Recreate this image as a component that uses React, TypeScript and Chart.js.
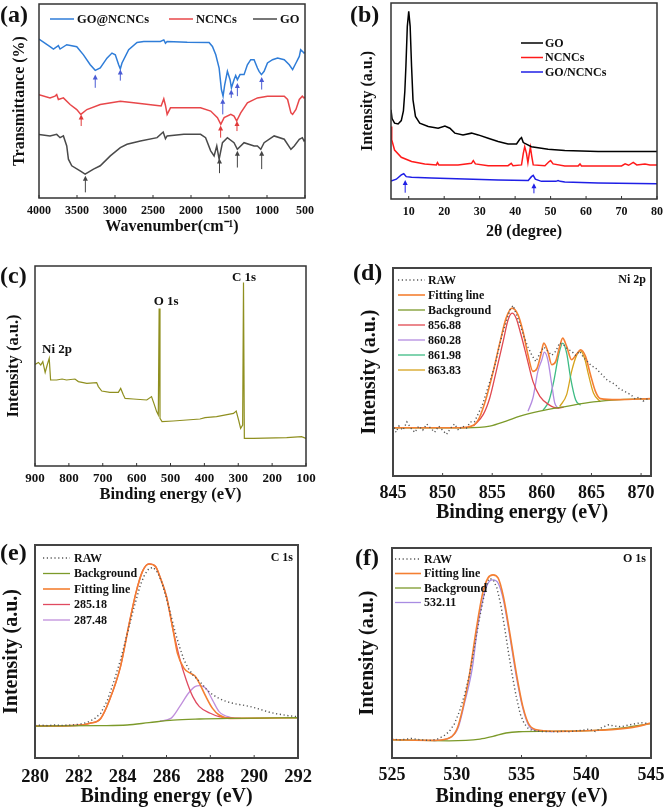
import React, { useEffect, useRef } from "react";
import { Chart, registerables } from "chart.js";
Chart.register(...registerables);

const SERIF = "'Liberation Serif', 'Times New Roman', Times, serif";
type Pt = [number, number];

// ---------- (a) FTIR ----------
const ftirTicks = [4000, 3500, 3000, 2500, 2000, 1500, 1000, 500];
const ftirGONCNCs: Pt[] = [[4000,81.9],[3855,78],[3810,76.8],[3745,78.5],[3723,76.8],[3635,79],[3503,78],[3415,73.8],[3326,68.7],[3260,65.8],[3194,67],[3106,72.1],[3040,74.7],[2996,73.8],[2952,68.7],[2930,66.5],[2908,69.6],[2820,76.4],[2710,80.2],[2622,80.7],[2402,80.7],[2358,81.5],[2336,79.8],[2314,80.7],[2050,80.3],[1762,80.2],[1718,78.1],[1674,73.8],[1630,67],[1600,55.9],[1578,52.5],[1556,58.5],[1521,65.3],[1486,61],[1468,56.8],[1434,61],[1412,63.1],[1390,61],[1355,63.6],[1302,63.6],[1258,68.7],[1214,71.3],[1170,71.3],[1126,67],[1104,65.3],[1073,63.6],[1038,65.3],[994,69.6],[927,71.3],[861,72.1],[773,71.3],[707,68.7],[663,66.2],[619,69.6],[575,73],[557,76.4],[535,75.6],[513,74.7],[500,75]];
const ftirNCNCs: Pt[] = [[4000,53.3],[3855,51.6],[3789,52.5],[3767,53.3],[3745,50.8],[3679,51.6],[3591,48.2],[3503,45.6],[3450,43.1],[3370,45.6],[3194,48.2],[2930,49.9],[2754,49.1],[2446,47.7],[2393,47.4],[2358,51.1],[2336,47.7],[2314,43.1],[2270,46.5],[2094,46.5],[1874,46.5],[1741,44.8],[1652,41.4],[1608,38],[1564,41.4],[1476,43.1],[1434,42.2],[1399,39.7],[1346,43.9],[1258,49.1],[1126,51.6],[994,52.5],[773,52.5],[729,50.8],[685,43.9],[663,43.1],[619,45.6],[575,50.8],[535,52.5],[513,51.6],[500,52]];
const ftirGO: Pt[] = [[4000,32.8],[3855,32],[3767,32.8],[3723,31.1],[3679,32],[3635,26.8],[3613,20],[3569,16.6],[3459,14],[3393,12.3],[3283,14.9],[3194,16.6],[3062,21.7],[2930,26],[2842,27.7],[2666,29.4],[2446,31.1],[2366,34],[2336,30.6],[2314,32],[2094,32.8],[1874,32.8],[1808,31.1],[1741,24.3],[1696,21.7],[1661,26.8],[1630,20],[1586,28.5],[1521,31.1],[1434,28.5],[1390,25.1],[1302,28.5],[1170,26.8],[1126,26.8],[1082,25.1],[1038,28.5],[906,32],[773,30.3],[685,25.1],[641,26.8],[575,30.3],[535,31.1],[513,29.4],[500,30]];
// arrows: [wavenumber, tip, tail]
const ftirArrowsBlue: [number, number, number][] = [[3260,63.6,56.8],[2930,66.2,60.5],[1582,51.1,43.1],[1470,55.9,51.6],[1390,59.3,52.5],[1070,62.4,55.9]];
const ftirArrowsRed: [number, number, number][] = [[3445,43.1,37.1],[1610,37.4,31.1],[1395,39.7,34.5]];
const ftirArrowsGray: [number, number, number][] = [[3390,11.5,2.9],[1625,20.3,12.8],[1390,24.3,15.7],[1070,24.3,14.9]];

// ---------- (b) XRD ----------
const xrdTicks = [10, 20, 30, 40, 50, 60, 70, 80];
const xrdGO: Pt[] = [[5,45.5],[5.3,41],[6,38.7],[7,38.3],[7.9,40],[8.5,45],[8.9,55],[9.2,67.6],[9.6,88.1],[10,95.7],[10.4,88.1],[10.8,67.6],[11.2,50.6],[11.9,42.1],[13.1,38.7],[15.5,37],[18.3,36.1],[20.2,37.2],[21.6,36.1],[23,33.6],[25.3,32.7],[27.7,33.6],[29.6,32.7],[32.4,31],[35.2,29.3],[38,28.1],[40.4,28.1],[41.3,30.5],[41.8,31.3],[42.3,28.8],[44.6,26.7],[49.3,25.4],[54,24.7],[63.4,24.2],[72.8,24.2],[80,24.2]];
const xrdNCNCs: Pt[] = [[5,37],[5.2,30.2],[6,25],[7.9,21.3],[10.8,19.1],[14.5,17.9],[17.8,17.4],[18.1,18.6],[18.5,17.4],[23.9,17.4],[27.7,18.2],[28.2,19.6],[28.8,17.9],[32.4,17],[38,17],[38.9,18.2],[39.4,17],[41.8,17.4],[42.3,23.3],[42.7,26.7],[43.2,23.3],[43.6,18.5],[44,23.3],[44.3,26.4],[44.7,21.6],[45.1,17.4],[48.4,17],[49.6,19.1],[50,19.6],[50.7,17.9],[54,16.9],[57.8,16.9],[58.3,17.9],[58.7,16.9],[70,16.9],[71,17.9],[72,17.2],[73.3,18.7],[74.3,17.4],[76.6,17.9],[78,17.4],[80,17.4]];
const xrdGONCNCs: Pt[] = [[5,9.2],[6.5,10.1],[7.9,12.3],[8.6,12.9],[9.3,11.4],[10.8,11.1],[16.4,10.7],[25.8,10.2],[35.2,9.7],[43.7,9.4],[44.6,11.4],[45.1,12.1],[45.7,10.1],[47.4,9],[51.5,9],[52.1,9.4],[52.7,9],[54,8.7],[63.4,8.2],[80,7.8]];
const xrdArrows: [number, number, number][] = [[9,9.7,3.2],[45.3,8.0,2.9]];

// ---------- (c) XPS survey ----------
const surveyTicks = [900, 800, 700, 600, 500, 400, 300, 200, 100];
const survey: Pt[] = [[900,50.8],[890,51.8],[883,50.5],[877,52.2],[870,46.8],[864,50.5],[858,53.8],[854,43],[836,43],[820,43.5],[807,43],[782,43.5],[772,42.2],[747,41.3],[718,41.7],[713,39.7],[703,37.5],[679,36.8],[654,36.8],[647,38.8],[639,35.5],[634,33.8],[610,33.5],[570,33],[556,34.7],[549,31.3],[541,27.2],[536,25.5],[533.5,78.8],[531,23.8],[525,22.2],[492,22.5],[413,23.5],[398,24.2],[364,24.7],[314,26.3],[306,27.5],[299,23],[293,18.8],[287,20.5],[284.5,91.8],[282,13.8],[255,13.8],[157,14.2],[113,14.7],[100,13.8]];
const surveyLabels: [string, number, number][] = [["Ni 2p",835,58],["O 1s",513,82],["C 1s",283,94]];

// ---------- (d) Ni 2p ----------
const ni2pTicks = [845, 850, 855, 860, 865, 870];
const ni2pRaw: Pt[] = [[845,25],[845.3,21],[845.6,24],[846,22],[846.4,26],[846.8,23],[847.2,21],[847.6,24],[848,22],[848.4,25],[848.8,23],[849.2,21],[849.6,24],[850,22],[850.4,20],[850.8,23],[851.2,25],[851.6,22],[852,24],[852.4,23],[852.8,26],[853.2,26],[853.6,30],[854,34],[854.4,40],[854.8,46],[855.2,52],[855.6,60],[856,68],[856.4,74],[856.8,80],[857.1,82],[857.4,78],[857.8,73],[858.2,67],[858.6,62],[859,58],[859.4,55],[859.8,59],[860.2,62],[860.6,60],[861,58],[861.4,60],[861.8,64],[862.2,63],[862.6,61],[863,60],[863.4,58],[863.8,60],[864.2,57],[864.6,55],[865,53],[865.4,52],[865.8,50],[866.2,48],[866.6,46],[867,45],[867.4,44],[867.8,42],[868.2,41],[868.6,40],[869,39],[869.4,37],[869.8,38],[870.2,36],[870.6,37],[871,37]];
const ni2pFit: Pt[] = [[845,23.2],[851.7,23.2],[853.1,24.4],[853.7,28],[854.4,37.5],[855.1,50.3],[855.8,64.7],[856.4,75.9],[857,80.7],[857.6,77.5],[858.1,69.5],[858.6,58.3],[859.1,50.3],[859.5,51.6],[859.9,58.3],[860.2,63.9],[860.6,59.9],[861,53.5],[861.4,55.1],[861.8,62.3],[862.1,66.3],[862.5,62.3],[863,55.9],[863.5,58.6],[863.9,60.7],[864.4,57.5],[864.9,48.7],[865.4,40.7],[865.9,37.2],[867.6,36.7],[871,37.2]];
const ni2pBackground: Pt[] = [[845,23.2],[852.4,23.2],[854.75,24],[856.4,26.4],[857.8,28.8],[859.8,31.2],[862.5,33.5],[865.2,35.6],[867.9,36.7],[871,37.2]];
const ni2pPeak1: Pt[] = [[853.1,24],[854.1,29.6],[854.75,37.5],[855.4,50.3],[856.1,64.7],[856.6,75.1],[857,78.3],[857.4,76],[857.9,67.9],[858.5,56.7],[859.1,45.5],[859.8,38.3],[860.7,34.3],[861.5,32.7],[862.2,33.1]];
const ni2pPeak2: Pt[] = [[858.6,31.1],[859.1,37.5],[859.6,50.3],[860,55.9],[860.25,59.6],[860.6,55.9],[861,43.9],[861.3,35.1],[861.7,32.4]];
const ni2pPeak3: Pt[] = [[860.1,31.5],[860.7,35.9],[861.2,45.5],[861.7,58.3],[862.1,63.9],[862.5,59.1],[862.9,47.1],[863.4,36.7],[863.9,34]];
const ni2pPeak4: Pt[] = [[861.8,33.5],[862.5,39.1],[863,50.3],[863.5,58],[863.9,60.2],[864.3,56.7],[864.7,48.7],[865.2,39.9],[865.9,35.6]];

// ---------- (e) C 1s ----------
const c1sTicks = [280, 282, 284, 286, 288, 290, 292];
const c1sRaw: Pt[] = [[280,15.3],[280.3,15.4],[280.6,15.2],[280.9,15.5],[281.2,15.3],[281.5,15.4],[281.8,15.6],[282.1,16],[282.4,16.8],[282.7,18.3],[283,21],[283.3,27],[283.6,36],[283.9,46],[284.2,58],[284.5,70],[284.8,81],[285,86],[285.2,89],[285.4,89.5],[285.6,87],[285.8,82],[286,75],[286.2,67],[286.4,59],[286.6,52],[286.8,46],[287,42],[287.2,39],[287.4,37],[287.6,35],[287.8,32.5],[288,30.5],[288.3,28.5],[288.6,27],[288.9,26],[289.2,25.3],[289.5,24.8],[289.8,24.2],[290.1,23.4],[290.4,22.4],[290.7,21.5],[291,20.8],[291.3,20.3],[291.6,19.8],[292,19.4]];
const c1sBackground: Pt[] = [[280,15],[282.96,15.2],[284.2,15.5],[285.2,16.6],[286.3,17.8],[287.5,18.3],[289.1,18.6],[292,18.9]];
const c1sFit: Pt[] = [[280,15],[281.9,15.3],[282.5,16.3],[283,18.6],[283.4,27.2],[283.9,42.9],[284.3,63.2],[284.6,77.3],[284.9,87.5],[285.2,91.1],[285.5,89.9],[285.7,85.1],[286,75.7],[286.3,60.1],[286.5,49.1],[286.8,42.1],[287.1,39.7],[287.3,38.5],[287.5,35.1],[287.8,28.8],[288.1,23.3],[288.4,20.2],[288.9,18.6],[292,18.9]];
const c1sPeak1: Pt[] = [[280,15],[281.9,15.3],[282.5,16.3],[283,18.6],[283.4,27.2],[283.9,42.9],[284.3,63.2],[284.6,77.3],[284.9,87.5],[285.2,91.1],[285.5,89.9],[285.7,85.1],[286,75.7],[286.3,60.1],[286.6,46.8],[286.9,36.6],[287.2,28.8],[287.5,24.1],[288,21],[288.4,19.4],[289.1,18.6]];
const c1sPeak2: Pt[] = [[285.7,17.4],[286.2,18.6],[286.6,24.1],[287,30.4],[287.3,33.5],[287.5,34],[287.8,32.7],[288.1,27.2],[288.4,21.8],[288.9,19.1],[289.4,18.6]];

// ---------- (f) O 1s ----------
const o1sTicks = [525, 530, 535, 540, 545];
const o1sRaw: Pt[] = [[525,9.2],[525.5,8.6],[526,8.9],[526.5,9.3],[527,8.8],[527.5,8.5],[528,8.4],[528.5,9],[529,10.5],[529.4,12.5],[529.8,16],[530.2,22],[530.6,30],[531,40],[531.4,54],[531.8,68],[532.2,80],[532.5,85.5],[532.8,85],[533.1,81],[533.4,73],[533.7,62],[534,50],[534.3,39],[534.6,29],[534.9,21],[535.2,16.5],[535.5,14.2],[535.8,13.2],[536.2,12.8],[536.7,12.6],[537.2,12.7],[537.7,12.4],[538.2,12.8],[538.7,12.5],[539.2,12.9],[539.7,13.2],[540.2,13.8],[540.7,12.6],[541.2,14.5],[541.7,15.8],[542.2,15.2],[542.7,14.9],[543.2,15.6],[543.7,16.2],[544.2,16.8],[544.7,16.5]];
const o1sFit: Pt[] = [[525,8.7],[528.2,8.4],[529.2,9],[530,13.5],[530.5,24.6],[531,40.4],[531.5,61],[532,78.4],[532.4,85.6],[532.8,87.2],[533.2,85.6],[533.6,76.9],[534.1,59.4],[534.6,40.4],[535.1,24.6],[535.6,15.8],[536.4,13.2],[537.9,12.7],[541,13.2],[543.6,14.6],[545,16.6]];
const o1sBackground: Pt[] = [[525,8.7],[529.4,8.2],[531.8,9],[532.8,10.3],[533.8,11.9],[534.8,12.5],[537.2,12.7],[541,13.3],[543,14.5],[545,16.4]];
const o1sPeak: Pt[] = [[528.2,8.2],[529.4,9.5],[530.1,14.3],[530.6,26.1],[531.2,42.8],[531.6,61.8],[532.1,77.6],[532.5,84],[532.8,84.8],[533.2,83.2],[533.6,75.3],[534.1,57.8],[534.6,38.8],[535.1,23.8],[535.6,15.1],[536.4,12.8],[537.4,12.5]];

// ---------- helpers ----------
const xy = (a: Pt[]) => a.map(([x, y]) => ({ x, y }));
const ORANGE = "#f47f32";
const OLIVE = "#7c9a2a";
const RAWC = "#555555";

function ds(label: string, data: Pt[], color: string, width = 1.5, extra: any = {}) {
  return { label, data: xy(data), borderColor: color, backgroundColor: color, borderWidth: width, pointRadius: 0, fill: false, tension: 0, ...extra };
}
const smooth = { cubicInterpolationMode: "monotone" };
const rawStyle = { borderDash: [1.2, 2.6], borderWidth: 1.4 };

type Arrow = { x: number; tip: number; tail: number; color: string };
type Deco = {
  arrows?: Arrow[];
  texts?: { text: string; x: number; y: number; size: number }[];
  corner?: { text: string; dx: number; dy: number; size: number };
  legend?: { x: number; y: number; dy: number; lineLen: number; gap: number; size: number; hx?: number[] };
  frameWidth: number;
  frameColor: string;
};

function makeDeco(d: Deco) {
  return {
    id: "deco",
    afterDatasetsDraw(chart: any) {
      const ctx = chart.ctx;
      const ca = chart.chartArea;
      const xs = chart.scales.x, ys = chart.scales.y;
      ctx.save();
      (d.arrows || []).forEach((a) => {
        const px = xs.getPixelForValue(a.x);
        const pt = ys.getPixelForValue(a.tip);
        const pl = ys.getPixelForValue(a.tail);
        ctx.strokeStyle = a.color; ctx.fillStyle = a.color; ctx.lineWidth = 1;
        ctx.setLineDash([]);
        ctx.beginPath(); ctx.moveTo(px, pl); ctx.lineTo(px, pt + 3); ctx.stroke();
        ctx.beginPath(); ctx.moveTo(px, pt); ctx.lineTo(px - 2.5, pt + 5); ctx.lineTo(px + 2.5, pt + 5); ctx.closePath(); ctx.fill();
      });
      ctx.fillStyle = "#111";
      ctx.textBaseline = "middle";
      (d.texts || []).forEach((t) => {
        ctx.font = `bold ${t.size}px ${SERIF}`;
        ctx.textAlign = "center";
        ctx.fillText(t.text, xs.getPixelForValue(t.x), ys.getPixelForValue(t.y));
      });
      if (d.corner) {
        ctx.font = `bold ${d.corner.size}px ${SERIF}`;
        ctx.textAlign = "right";
        ctx.fillText(d.corner.text, ca.right - d.corner.dx, ca.top + d.corner.dy);
      }
      if (d.legend) {
        const L = d.legend;
        ctx.font = `bold ${L.size}px ${SERIF}`;
        ctx.textAlign = "left";
        chart.data.datasets.forEach((s: any, i: number) => {
          const x0 = ca.left + (L.hx ? L.hx[i] : L.x);
          const y0 = ca.top + L.y + (L.hx ? 0 : i * L.dy);
          ctx.strokeStyle = s.borderColor;
          ctx.lineWidth = s.borderWidth;
          ctx.setLineDash(s.borderDash || []);
          ctx.beginPath(); ctx.moveTo(x0, y0); ctx.lineTo(x0 + L.lineLen, y0); ctx.stroke();
          ctx.setLineDash([]);
          ctx.fillStyle = "#111";
          ctx.fillText(s.label, x0 + L.lineLen + L.gap, y0 + 0.5);
        });
      }
      // frame and inward ticks
      ctx.setLineDash([]);
      ctx.strokeStyle = d.frameColor; ctx.lineWidth = d.frameWidth;
      ctx.strokeRect(ca.left, ca.top, ca.right - ca.left, ca.bottom - ca.top);
      ctx.lineWidth = 1;
      xs.ticks.forEach((t: any) => {
        const px = xs.getPixelForValue(t.value);
        ctx.beginPath(); ctx.moveTo(px, ca.bottom); ctx.lineTo(px, ca.bottom - 3); ctx.stroke();
      });
      ctx.restore();
    },
  };
}

type Spec = {
  canvas: { left: number; top: number; width: number; height: number };
  plot: { left: number; top: number; right: number; bottom: number };
  xmin: number; xmax: number; reverse: boolean; xTicks: number[];
  tickSize: number; tickPad: number;
  xTitle: string; yTitle: string; titleSize: number; xTitlePad: number; yTitlePad: number;
  datasets: any[]; deco: Deco;
};

function buildConfig(s: Spec): any {
  const c = s.canvas, p = s.plot;
  const yWidth = p.left - c.left;
  const xHeight = c.top + c.height - p.bottom;
  const titleFont = { family: SERIF, size: s.titleSize, weight: "bold" };
  return {
    type: "line",
    data: { datasets: s.datasets },
    options: {
      animation: false, responsive: false, devicePixelRatio: 1,
      layout: { padding: { top: p.top - c.top, right: c.left + c.width - p.right, bottom: 0, left: 0 } },
      plugins: { legend: { display: false }, tooltip: { enabled: false } },
      scales: {
        x: {
          type: "linear", min: s.xmin, max: s.xmax, reverse: s.reverse,
          afterBuildTicks: (sc: any) => { sc.ticks = s.xTicks.map((v) => ({ value: v })); },
          afterFit: (sc: any) => { sc.height = xHeight; sc.paddingLeft = 0; sc.paddingRight = 0; },
          grid: { display: false, drawTicks: false }, border: { display: false },
          ticks: { font: { family: SERIF, size: s.tickSize, weight: "bold" }, color: "#111", padding: s.tickPad, maxRotation: 0, autoSkip: false,
            callback: (v: any) => String(v) },
          title: { display: true, text: s.xTitle, font: titleFont, color: "#111", padding: { top: 0, bottom: s.xTitlePad } },
        },
        y: {
          type: "linear", min: 0, max: 100,
          afterFit: (sc: any) => { sc.width = yWidth; },
          grid: { display: false, drawTicks: false }, border: { display: false },
          ticks: { display: false },
          title: { display: true, text: s.yTitle, font: titleFont, color: "#111", padding: { top: s.yTitlePad, bottom: 0 } },
        },
      },
    },
    plugins: [makeDeco(s.deco)],
  };
}

function Panel({ spec }: { spec: Spec }) {
  const ref = useRef<HTMLCanvasElement>(null);
  useEffect(() => {
    const chart = new Chart(ref.current as HTMLCanvasElement, buildConfig(spec));
    return () => chart.destroy();
  }, [spec]);
  const c = spec.canvas;
  return (
    <canvas ref={ref} width={c.width} height={c.height}
      style={{ position: "absolute", left: c.left, top: c.top, width: c.width, height: c.height }} />
  );
}

const arrowsA: Arrow[] = [
  ...ftirArrowsBlue.map(([x, tip, tail]) => ({ x, tip, tail, color: "#4a5bd4" })),
  ...ftirArrowsRed.map(([x, tip, tail]) => ({ x, tip, tail, color: "#e03a3a" })),
  ...ftirArrowsGray.map(([x, tip, tail]) => ({ x, tip, tail, color: "#444444" })),
];

const specs: Spec[] = [
  {
    canvas: { left: 0, top: 0, width: 325, height: 240 }, plot: { left: 39, top: 4, right: 305, bottom: 198 },
    xmin: 500, xmax: 4000, reverse: true, xTicks: ftirTicks, tickSize: 12, tickPad: 5.8,
    xTitle: "Wavenumber(cm\u207B\u00B9)", yTitle: "Transmittance (%)", titleSize: 16, xTitlePad: 3.4, yTitlePad: 10.4,
    datasets: [ds("GO@NCNCs", ftirGONCNCs, "#2f7dd8", 1.5), ds("NCNCs", ftirNCNCs, "#e8474a", 1.5), ds("GO", ftirGO, "#4a4a4a", 1.5)],
    deco: { arrows: arrowsA, legend: { x: 0, y: 15, dy: 0, lineLen: 24, gap: 3, size: 12.5, hx: [11, 130, 214] }, frameWidth: 1.5, frameColor: "#333" },
  },
  {
    canvas: { left: 333, top: 0, width: 333, height: 245 }, plot: { left: 391, top: 3, right: 657, bottom: 199 },
    xmin: 5, xmax: 80, reverse: false, xTicks: xrdTicks, tickSize: 12, tickPad: 5.8,
    xTitle: "2\u03B8 (degree)", yTitle: "Intensity (a.u.)", titleSize: 16, xTitlePad: 3.4, yTitlePad: 25.4,
    datasets: [ds("GO", xrdGO, "#000000", 1.5), ds("NCNCs", xrdNCNCs, "#ff1a1a", 1.5), ds("GO/NCNCs", xrdGONCNCs, "#1f1fe6", 1.5)],
    deco: { arrows: xrdArrows.map(([x, tip, tail]) => ({ x, tip, tail, color: "#1f1fe6" })), legend: { x: 130, y: 40, dy: 14.5, lineLen: 22, gap: 2, size: 12 }, frameWidth: 1.5, frameColor: "#333" },
  },
  {
    canvas: { left: 0, top: 260, width: 333, height: 250 }, plot: { left: 35, top: 266, right: 306, bottom: 466 },
    xmin: 100, xmax: 900, reverse: true, xTicks: surveyTicks, tickSize: 13, tickPad: 4.8,
    xTitle: "Binding energy (eV)", yTitle: "Intensity (a.u.)", titleSize: 16.5, xTitlePad: 5.4, yTitlePad: 3.4,
    datasets: [ds("Survey", survey, "#8f8f1f", 1.2)],
    deco: { texts: surveyLabels.map(([text, x, y]) => ({ text, x, y, size: 13 })), frameWidth: 1.5, frameColor: "#333" },
  },
  {
    canvas: { left: 333, top: 260, width: 333, height: 270 }, plot: { left: 393, top: 268, right: 651, bottom: 476 },
    xmin: 845, xmax: 871, reverse: false, xTicks: ni2pTicks, tickSize: 18, tickPad: 6.2,
    xTitle: "Binding energy (eV)", yTitle: "Intensity (a.u.)", titleSize: 20, xTitlePad: 5, yTitlePad: 25,
    datasets: [
      ds("RAW", ni2pRaw, RAWC, 1.4, rawStyle),
      ds("Fitting line", ni2pFit, ORANGE, 1.6, smooth),
      ds("Background", ni2pBackground, OLIVE, 1.3, smooth),
      ds("856.88", ni2pPeak1, "#e04850", 1.3, smooth),
      ds("860.28", ni2pPeak2, "#b48be0", 1.3, smooth),
      ds("861.98", ni2pPeak3, "#3dbb84", 1.3, smooth),
      ds("863.83", ni2pPeak4, "#d6a31c", 1.3, smooth),
    ],
    deco: { corner: { text: "Ni 2p", dx: 5, dy: 12, size: 12 }, legend: { x: 5, y: 12, dy: 15, lineLen: 27, gap: 3, size: 12 }, frameWidth: 2, frameColor: "#444" },
  },
  {
    canvas: { left: 0, top: 540, width: 333, height: 269 }, plot: { left: 35, top: 545, right: 298, bottom: 758 },
    xmin: 280, xmax: 292, reverse: false, xTicks: c1sTicks, tickSize: 18.5, tickPad: 8.2,
    xTitle: "Binding energy (eV)", yTitle: "Intensity (a.u.)", titleSize: 20, xTitlePad: 0, yTitlePad: 0,
    datasets: [
      ds("RAW", c1sRaw, RAWC, 1.4, rawStyle),
      ds("Background", c1sBackground, OLIVE, 1.3, smooth),
      ds("Fitting line", c1sFit, ORANGE, 1.6, smooth),
      ds("285.18", c1sPeak1, "#e04a60", 1.3, smooth),
      ds("287.48", c1sPeak2, "#c08fdc", 1.3, smooth),
    ],
    deco: { corner: { text: "C 1s", dx: 5, dy: 13, size: 12 }, legend: { x: 8, y: 13, dy: 15.5, lineLen: 27, gap: 4, size: 12 }, frameWidth: 2, frameColor: "#444" },
  },
  {
    canvas: { left: 333, top: 540, width: 333, height: 269 }, plot: { left: 392, top: 548, right: 651, bottom: 758 },
    xmin: 525, xmax: 545, reverse: false, xTicks: o1sTicks, tickSize: 18, tickPad: 6.2,
    xTitle: "Binding energy (eV)", yTitle: "Intensity (a.u.)", titleSize: 20, xTitlePad: 0, yTitlePad: 23,
    datasets: [
      ds("RAW", o1sRaw, RAWC, 1.4, rawStyle),
      ds("Fitting line", o1sFit, ORANGE, 1.6, smooth),
      ds("Background", o1sBackground, OLIVE, 1.3, smooth),
      ds("532.11", o1sPeak, "#a98ce2", 1.3, smooth),
    ],
    deco: { corner: { text: "O 1s", dx: 5, dy: 11, size: 12 }, legend: { x: 3, y: 11, dy: 14.5, lineLen: 26, gap: 3, size: 12 }, frameWidth: 2, frameColor: "#444" },
  },
];

const panelLabels: [string, number, number][] = [["(a)", 0, 0], ["(b)", 350, 0], ["(c)", 0, 261], ["(d)", 353, 258], ["(e)", 0, 538], ["(f)", 355, 543]];

export default function App() {
  return (
    <div style={{ position: "absolute", left: 0, top: 0, width: 666, height: 809, background: "#fff", overflow: "hidden" }}>
      {specs.map((s, i) => <Panel key={i} spec={s} />)}
      {panelLabels.map(([t, x, y]) => (
        <div key={t} style={{ position: "absolute", left: x, top: y, fontFamily: SERIF, fontWeight: "bold", fontSize: 24, lineHeight: "28px", color: "#111" }}>{t}</div>
      ))}
    </div>
  );
}
